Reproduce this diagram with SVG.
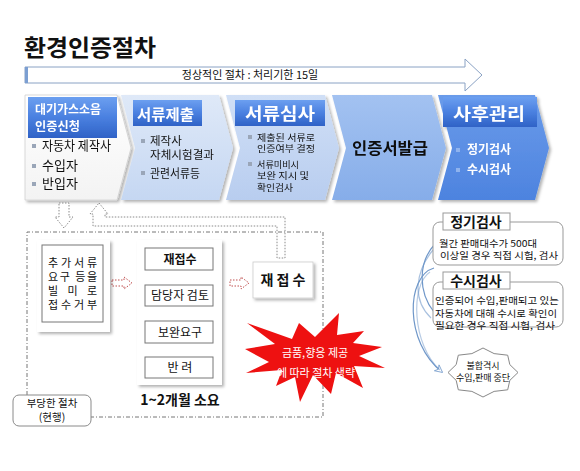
<svg xmlns="http://www.w3.org/2000/svg" width="580" height="471" viewBox="0 0 580 471">
<defs>
<style>
text{font-family:"Noto Sans CJK KR","Noto Sans",sans-serif;fill:#111}
.w{fill:#fff}
.b{font-weight:bold}
.box{fill:#fff;stroke:#777;stroke-width:1}
.dot{fill:#fff;stroke:#8a8a8a;stroke-width:1;stroke-dasharray:1.5 1.5}
.rdot{fill:#fff;stroke:#c05050;stroke-width:1;stroke-dasharray:1.5 1.5}
.sm{fill:#fff;stroke:#a8a8a8;stroke-width:1}
.blue{fill:none;stroke:#6f97c9;stroke-width:1.2}
.bul{fill:#9aa6b8}
</style>
<linearGradient id="g1" x1="0" y1="0" x2="0" y2="1"><stop offset="0" stop-color="#ffffff"/><stop offset="1" stop-color="#f3f3f3"/></linearGradient>
<linearGradient id="g2" x1="0" y1="0" x2="0" y2="1"><stop offset="0" stop-color="#dfe9f8"/><stop offset="1" stop-color="#c5d7f2"/></linearGradient>
<linearGradient id="g3" x1="0" y1="0" x2="0" y2="1"><stop offset="0" stop-color="#d0dff6"/><stop offset="1" stop-color="#b8cdef"/></linearGradient>
<linearGradient id="g4" x1="0" y1="0" x2="0" y2="1"><stop offset="0" stop-color="#a3c2f1"/><stop offset="1" stop-color="#86ade9"/></linearGradient>
<linearGradient id="g5" x1="0" y1="0" x2="0" y2="1"><stop offset="0" stop-color="#6a9bea"/><stop offset="1" stop-color="#4d83df"/></linearGradient>
<linearGradient id="gh" x1="0" y1="0" x2="0" y2="1"><stop offset="0" stop-color="#6c9ff0"/><stop offset="0.5" stop-color="#4a80e0"/><stop offset="1" stop-color="#2f62c6"/></linearGradient>
<filter id="sh" x="-10%" y="-10%" width="130%" height="130%"><feDropShadow dx="2" dy="2" stdDeviation="1.5" flood-color="#000" flood-opacity="0.3"/></filter>
<marker id="ah" viewBox="0 0 12 12" refX="10" refY="6" markerWidth="9" markerHeight="9" orient="auto" markerUnits="userSpaceOnUse"><path d="M1,1 L11,6 L1,11 L4,6 Z" fill="#fff" stroke="#6f97c9" stroke-width="1"/></marker>
</defs>
<rect width="580" height="471" fill="#fff"/>

<g id="title"><text x="24" y="56" font-size="23" class="b" textLength="132" lengthAdjust="spacingAndGlyphs">환경인증절차</text></g>

<g id="timeline">
<path d="M25,67 L465,67 L465,59 L482,75 L465,91 L465,83 L25,83 Z" fill="#fff" stroke="#8aa2c4" stroke-width="1"/>
<rect x="25" y="67" width="3" height="16" fill="#7c9fd2"/>
<text x="250" y="79" font-size="11" text-anchor="middle">정상적인 절차 : 처리기한 15일</text>
</g>

<g id="step1" filter="url(#sh)">
<path d="M25,95 L117,95 L131,148 L117,200 L25,200 Z" fill="url(#g1)" stroke="#d0d0d0" stroke-width="0.8"/>
<rect x="28" y="97" width="89" height="41" fill="url(#gh)"/>
<text x="35" y="114" font-size="12" class="w b" textLength="66" lengthAdjust="spacingAndGlyphs">대기가스소음</text>
<text x="35" y="131" font-size="12" class="w b" textLength="45" lengthAdjust="spacingAndGlyphs">인증신청</text>
<rect x="32" y="144" width="4" height="4" class="bul"/><text x="42" y="150" font-size="13" textLength="69" lengthAdjust="spacingAndGlyphs">자동차 제작사</text>
<rect x="32" y="164" width="4" height="4" class="bul"/><text x="42" y="170" font-size="13">수입자</text>
<rect x="32" y="182" width="4" height="4" class="bul"/><text x="42" y="188" font-size="13">반입자</text>
</g>

<g id="step2" filter="url(#sh)">
<path d="M121,95 L219,95 L233,148 L219,200 L121,200 L135,148 Z" fill="url(#g2)"/>
<rect x="133" y="100" width="69" height="26" fill="url(#gh)"/>
<text x="137" y="120" font-size="15" class="w b" textLength="57" lengthAdjust="spacingAndGlyphs">서류제출</text>
<rect x="141" y="139" width="4" height="4" class="bul"/><text x="150" y="145" font-size="11.5">제작사</text>
<text x="150" y="159" font-size="11.5" textLength="64" lengthAdjust="spacingAndGlyphs">자체시험결과</text>
<rect x="141" y="171" width="4" height="4" class="bul"/><text x="150" y="178" font-size="12" textLength="50" lengthAdjust="spacingAndGlyphs">관련서류등</text>
</g>

<g id="step3" filter="url(#sh)">
<path d="M226,95 L325,95 L339,148 L325,200 L226,200 L240,148 Z" fill="url(#g3)"/>
<rect x="235" y="100" width="90" height="26" fill="url(#gh)"/>
<text x="245" y="120" font-size="17" class="w b" textLength="70" lengthAdjust="spacingAndGlyphs">서류심사</text>
<rect x="248" y="135" width="4" height="4" class="bul"/>
<text x="257" y="141" font-size="9" textLength="58" lengthAdjust="spacingAndGlyphs">제출된 서류로</text>
<text x="257" y="152" font-size="9" textLength="58" lengthAdjust="spacingAndGlyphs">인증여부 결정</text>
<rect x="248" y="162" width="4" height="4" class="bul"/>
<text x="257" y="168" font-size="9" textLength="42" lengthAdjust="spacingAndGlyphs">서류미비시</text>
<text x="257" y="179" font-size="9" textLength="52" lengthAdjust="spacingAndGlyphs">보완 지시 및</text>
<text x="257" y="191" font-size="9" textLength="36" lengthAdjust="spacingAndGlyphs">확인검사</text>
</g>

<g id="step4" filter="url(#sh)">
<path d="M332,95 L432,95 L446,148 L432,200 L332,200 L346,148 Z" fill="url(#g4)"/>
<text x="390" y="154" font-size="16" class="b" text-anchor="middle" textLength="76" lengthAdjust="spacingAndGlyphs">인증서발급</text>
</g>

<g id="step5" filter="url(#sh)">
<path d="M438,95 L535,95 L549,148 L535,200 L438,200 L452,148 Z" fill="url(#g5)"/>
<rect x="443" y="97" width="94" height="30" fill="url(#gh)"/>
<text x="453" y="120" font-size="17" class="w b" textLength="72" lengthAdjust="spacingAndGlyphs">사후관리</text>
<rect x="456" y="148" width="4" height="4" fill="#8fb3ee"/><text x="467" y="154" font-size="12" class="w b">정기검사</text>
<rect x="456" y="168" width="4" height="4" fill="#8fb3ee"/><text x="467" y="174" font-size="12" class="w b">수시검사</text>
</g>

<g id="connectors">
<path d="M59,203 L69,203 L69,217 L73,217 L64,228 L55,217 L59,217 Z" class="dot"/>
<path d="M99,203 L108,214 L105,214 L105,217 L285,217 L285,258 L277,258 L277,226 L93,226 L93,214 L90,214 Z" class="dot"/>
<path d="M27,395 L27,232 L323,232 L323,417 L91,417" fill="none" stroke="#777" stroke-width="1" stroke-dasharray="4 2 1 2"/>
<path d="M112,280 L124,280 L124,277 L132,283 L124,289 L124,286 L112,286 Z" class="rdot"/>
<path d="M230,280 L241,280 L241,277 L249,283 L241,289 L241,286 L230,286 Z" class="rdot"/>
<path d="M177,272 L183,272 L183,277 L187,277 L180,284 L173,277 L177,277 Z" class="sm"/>
<path d="M177,308 L183,308 L183,313 L187,313 L180,320 L173,313 L177,313 Z" class="sm"/>
<path d="M177,344 L183,344 L183,349 L187,349 L180,356 L173,349 L177,349 Z" class="sm"/>
<path d="M435,244 C418,262 418,292 434,312" class="blue"/>
<path d="M433,250 C415,272 412,300 431,318" class="blue" opacity="0.6"/>
<path d="M434,268 C406,276 404,342 442,372" class="blue" marker-end="url(#ah)"/>
<path d="M430,272 C410,285 412,345 440,370" class="blue" opacity="0.5"/>
</g>

<g id="reject">
<rect x="37" y="240" width="73" height="92" fill="#fff" filter="url(#sh)"/>
<rect x="42" y="245" width="61" height="77" fill="#fff" stroke="#777" stroke-width="1"/>
<text x="48" y="267" font-size="11" textLength="49" lengthAdjust="spacing">추가서류</text>
<text x="48" y="281" font-size="11" textLength="49" lengthAdjust="spacing">요구 등을</text>
<text x="48" y="295" font-size="11" textLength="49" lengthAdjust="spacing">빌미로</text>
<text x="48" y="309" font-size="11" textLength="49" lengthAdjust="spacing">접수거부</text>
</g>

<g id="process">
<rect x="137" y="240" width="85" height="145" fill="#fff" filter="url(#sh)"/>
<rect x="145" y="248" width="68" height="22" class="box"/>
<text x="180" y="264" font-size="12" class="b" text-anchor="middle">재접수</text>
<rect x="145" y="285" width="68" height="21" class="box"/>
<text x="180" y="300" font-size="12" text-anchor="middle">담당자 검토</text>
<rect x="145" y="321" width="68" height="22" class="box"/>
<text x="180" y="337" font-size="12" text-anchor="middle">보완요구</text>
<rect x="145" y="357" width="68" height="21" class="box"/>
<text x="180" y="372" font-size="12" text-anchor="middle">반 려</text>
<text x="180" y="405" font-size="14" class="b" text-anchor="middle">1~2개월 소요</text>
</g>

<g id="resubmit">
<rect x="253" y="262" width="60" height="36" fill="#fff" stroke="#ccc" stroke-width="0.8" filter="url(#sh)"/>
<text x="283" y="285" font-size="14" class="b" text-anchor="middle">재 접 수</text>
</g>

<g id="current">
<rect x="13" y="395" width="78" height="31" rx="6" fill="#fff" stroke="#8a8a8a" stroke-width="1"/>
<text x="52" y="407" font-size="10.5" text-anchor="middle">부당한 절차</text>
<text x="52" y="421" font-size="10.5" text-anchor="middle">(현행)</text>
</g>

<g id="bribe">
<polygon points="315,337 339,313 337,335 364,331 353,343 382,347 359,356 385,368 354,366 363,388 336,373 331,394 313,375 300,402 295,377 276,386 282,370 246,373 269,362 245,349 275,344 247,323 292,339 299,323" fill="#ee1111"/>
<text x="315" y="357" font-size="11" class="w" text-anchor="middle">금품,향응 제공</text>
<text x="316" y="377" font-size="11" class="w" text-anchor="middle">에 따라 절차 생략</text>
</g>

<g id="regular">
<rect x="433" y="222" width="130" height="43" rx="7" fill="#fff" stroke="#999" stroke-width="1"/>
<rect x="443" y="213" width="67" height="17" fill="#fff" stroke="#999" stroke-width="1"/>
<text x="476" y="227" font-size="14" class="b" text-anchor="middle">정기검사</text>
<text x="439" y="247" font-size="9.5" textLength="98" lengthAdjust="spacingAndGlyphs">월간 판매대수가 500대</text>
<text x="440" y="259" font-size="9.5" textLength="118" lengthAdjust="spacingAndGlyphs">이상일 경우 직접 시험, 검사</text>
</g>

<g id="random">
<rect x="433" y="282" width="130" height="45" rx="7" fill="#fff" stroke="#999" stroke-width="1"/>
<rect x="443" y="272" width="67" height="17" fill="#fff" stroke="#999" stroke-width="1"/>
<text x="476" y="286" font-size="14" class="b" text-anchor="middle">수시검사</text>
<text x="435" y="304" font-size="9.5" textLength="124" lengthAdjust="spacingAndGlyphs">인증되어 수입,판매되고 있는</text>
<text x="435" y="317" font-size="9.5" textLength="122" lengthAdjust="spacingAndGlyphs">자동차에 대해 수시로 확인이</text>
<text x="435" y="329" font-size="9.5" textLength="120" lengthAdjust="spacingAndGlyphs">필요한 경우 직접 시험, 검사</text>
</g>

<g id="fail">
<polygon points="483,348 494.1,353.6 507.7,355.2 509.8,364.6 518,372.5 509.8,380.4 507.7,389.8 494.1,391.4 483,397 471.9,391.4 458.3,389.8 456.2,380.4 448,372.5 456.2,364.6 458.3,355.2 471.9,353.6" fill="#fff" stroke="#888" stroke-width="1"/>
<text x="483" y="369" font-size="9" text-anchor="middle">불합격시</text>
<text x="483" y="381" font-size="9" text-anchor="middle">수입,판매 중단</text>
</g>
</svg>
